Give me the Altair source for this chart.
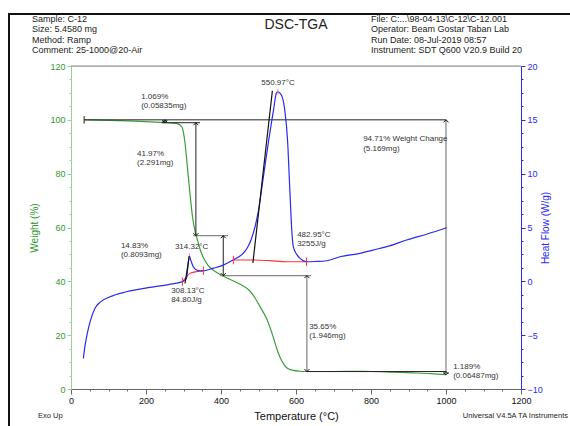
import altair as alt
import pandas as pd

# ---------------- data ----------------
w_temp = [35, 100, 150, 200, 250, 270, 285, 293, 298, 304, 310, 317, 324, 331, 336, 344,
          352, 365, 379, 405, 432, 455, 477, 490, 504, 523, 539, 550, 557, 566, 576, 590,
          610, 629, 700, 779, 850, 912, 960, 1000]
w_val = [100, 99.8, 99.6, 99.3, 98.95, 98.8, 98.5, 97.8, 96.5, 91.4, 83, 72.9, 64, 58.5, 56, 52,
         49.1, 46, 44.2, 42.0, 40.2, 38.6, 36.4, 34.0, 30.6, 25.7, 19.4, 14.5, 11.9, 9.5, 7.8, 7.0,
         6.6, 6.5, 6.5, 6.6, 6.3, 6.0, 5.7, 5.3]

hf_temp = [33, 37, 43.5, 51, 64, 77, 104, 148, 211, 260, 297, 303, 308, 311, 315.5, 320, 326,
           335, 345, 353, 380, 406, 432, 459, 470, 480, 491, 500, 513, 526, 540, 548, 552, 561,
           570, 578, 582, 586, 589, 593, 602, 611, 628, 650, 682, 717, 771, 805, 850, 895, 950, 1002]
hf_val = [-7.15, -6.07, -4.83, -3.75, -2.5, -1.95, -1.43, -0.97, -0.56, -0.3, -0.03, 0.1, 0.28,
          1.1, 2.35, 1.9, 1.36, 1.05, 0.97, 0.98, 1.22, 1.51, 1.98, 2.6, 3.1, 3.84, 5.1, 6.6, 9.7,
          12.8, 15.9, 17.5, 17.6, 17.3, 15.9, 12.8, 9.7, 6.6, 4.6, 3.2, 2.5, 2.13, 1.82, 1.84,
          1.91, 2.28, 2.6, 2.9, 3.3, 3.84, 4.4, 4.98]

red1_temp = [297, 305, 317, 335, 353]
red1_val = [-0.03, 0.3, 0.74, 0.9, 0.98]
red2_temp = [433, 486, 530, 575, 628]
red2_val = [1.98, 1.98, 1.92, 1.82, 1.82]
red_tick_temp = [297, 353, 433, 628]
red_tick_val = [-0.03, 0.98, 1.98, 1.82]
peak_temp = [315.5, 552]
peak_val = [2.35, 17.6]

tan_x1 = [304, 485]
tan_y1 = [-0.2, 1.7]
tan_x2 = [315.5, 537]
tan_y2 = [2.35, 17.7]

# step-analysis segments on the weight scale
dark_x1 = [35, 242, 333, 406, 629, 250, 35]
dark_x2 = [1000, 344, 333, 406, 1000, 250, 35]
dark_y1 = [100, 98.93, 98.93, 56.96, 6.48, 98.93, 98.6]
dark_y2 = [100, 98.93, 56.96, 42.13, 6.48, 100, 101.4]

gray_x1 = [326, 397, 629, 1000]
gray_x2 = [419, 640, 629, 1000]
gray_y1 = [56.96, 42.13, 42.13, 100]
gray_y2 = [56.96, 42.13, 6.48, 5.29]

up_arrow_x = [333, 406, 629, 1000, 250, 1000]
up_arrow_y = [98.93, 56.96, 42.13, 100, 100, 6.48]
down_arrow_x = [333, 406, 629, 1000, 250]
down_arrow_y = [56.96, 42.13, 6.48, 5.29, 98.93]

w_label_text = ["1.069%", "(0.05835mg)", "41.97%", "(2.291mg)", "14.83%", "(0.8093mg)",
                "35.65%", "(1.946mg)", "1.189%", "(0.06487mg)", "94.71% Weight Change", "(5.169mg)"]
w_label_x = [187, 187, 176, 176, 133, 133, 635, 635, 1019, 1019, 779, 779]
w_label_y = [108.6, 105.0, 87.3, 84.0, 53.1, 49.8, 23.0, 19.7, 8.2, 4.8, 92.9, 89.2]

h_label_text = ["314.32°C", "482.95°C", "3255J/g", "308.13°C", "84.80J/g"]
h_label_x = [277, 603, 603, 267, 267]
h_label_y = [3.19, 4.30, 3.46, -0.9, -1.74]
peak_label_text = ["550.97°C"]
peak_label_x = [552]
peak_label_y = [18.4]

x_ticks = list(range(0, 1201, 50))
w_ticks = list(range(0, 121, 5))
h_ticks = [-10 + 1.25 * i for i in range(25)]

header_left = ["Sample: C-12", "Size:  5.4580 mg", "Method: Ramp", "Comment: 25-1000@20-Air"]
header_right = ["File: C:...\\98-04-13\\C-12\\C-12.001", "Operator: Beam Gostar Taban Lab",
                "Run Date: 08-Jul-2019 08:57", "Instrument: SDT Q600 V20.9 Build 20"]

# ---------------- styling ----------------
GREEN = "#2e9a2e"
GREEN_LIGHT = "#9ccf9c"
BLUE = "#2a2af0"
RED = "#ff3030"
FONT = "Liberation Sans"

xscale = alt.Scale(domain=[0, 1200], nice=False, zero=False)
wscale = alt.Scale(domain=[0, 120], nice=False, zero=False)
hscale = alt.Scale(domain=[-10, 20], nice=False, zero=False)

xaxis = alt.Axis(values=x_ticks, title="Temperature (°C)", format="d",
                 labelExpr="datum.value % 200 === 0 ? datum.label : ''",
                 tickSize={"condition": {"test": "datum.value % 200 === 0", "value": 5}, "value": 2},
                 grid=False, domainColor="#666", tickColor="#666", labelColor="#111",
                 labelFontSize=9, titleFontSize=11, titleFontWeight="normal", titleColor="#111",
                 labelOverlap=False, labelFlush=False, titlePadding=5, labelPadding=2)
waxis = alt.Axis(values=w_ticks, orient="left", title="Weight (%)", format="d",
                 labelExpr="datum.value % 20 === 0 ? datum.label : ''",
                 tickSize={"condition": {"test": "datum.value % 20 === 0", "value": 4}, "value": 2},
                 grid=False, domainColor=GREEN_LIGHT, tickColor=GREEN_LIGHT, labelColor=GREEN,
                 labelFontSize=9, titleFontSize=10, titleFontWeight="normal", titleColor=GREEN,
                 labelOverlap=False, labelFlush=False, titlePadding=10, labelPadding=2)
haxis = alt.Axis(values=h_ticks, orient="right", title="Heat Flow (W/g)", titleAngle=270,
                 labelExpr="datum.value % 5 === 0 ? datum.label : ''",
                 tickSize={"condition": {"test": "datum.value % 5 === 0", "value": 4}, "value": 2},
                 grid=False, domainColor=BLUE, tickColor=BLUE, labelColor=BLUE,
                 labelFontSize=9, titleFontSize=10, titleFontWeight="normal", titleColor=BLUE,
                 labelOverlap=False, labelFlush=False, titlePadding=8, labelPadding=2)


def X(field):
    return alt.X(field, type="quantitative", scale=xscale, axis=xaxis)


def YW(field):
    return alt.Y(field, type="quantitative", scale=wscale, axis=waxis)


def YH(field):
    return alt.Y(field, type="quantitative", scale=hscale, axis=haxis)


one = pd.DataFrame({"k": [0]})

# ---------------- weight (left axis) layers ----------------
wdf = pd.DataFrame({"t": w_temp, "w": w_val})
green = alt.Chart(wdf).mark_line(color="#3d9e3d", strokeWidth=1.2, interpolate="monotone").encode(
    x=X("t"), y=YW("w"))

dark_df = pd.DataFrame({"t": dark_x1, "t2": dark_x2, "w": dark_y1, "w2": dark_y2})
dark = alt.Chart(dark_df).mark_rule(color="#222", strokeWidth=1).encode(
    x=X("t"), x2="t2", y=YW("w"), y2="w2")
gray_df = pd.DataFrame({"t": gray_x1, "t2": gray_x2, "w": gray_y1, "w2": gray_y2})
gray = alt.Chart(gray_df).mark_rule(color="#888", strokeWidth=1.3).encode(
    x=X("t"), x2="t2", y=YW("w"), y2="w2")

up_df = pd.DataFrame({"t": up_arrow_x, "w": up_arrow_y})
ups = alt.Chart(up_df).mark_point(shape="M-1,1L0,0L1,1", filled=False, size=25,
                                  color="#111", strokeWidth=1, opacity=1).encode(
    x=X("t"), y=YW("w"))
dn_df = pd.DataFrame({"t": down_arrow_x, "w": down_arrow_y})
downs = alt.Chart(dn_df).mark_point(shape="M-1,-1L0,0L1,-1", filled=False, size=25,
                                    color="#111", strokeWidth=1, opacity=1).encode(
    x=X("t"), y=YW("w"))

wl_df = pd.DataFrame({"txt": w_label_text, "t": w_label_x, "w": w_label_y})
wlabels = alt.Chart(wl_df).mark_text(align="left", baseline="middle", fontSize=8,
                                     color="#333", font=FONT).encode(
    x=X("t"), y=YW("w"), text="txt:N")

# frame and page decorations (pixel offsets relative to the plot area)
top_line = alt.Chart(one).mark_rule(color="#888", strokeWidth=1).encode(
    x=alt.value(0), x2=alt.value(450), y=alt.value(0))
page_left = alt.Chart(one).mark_rule(color="#111", strokeWidth=2).encode(
    x=alt.value(-62), y=alt.value(-52), y2=alt.value(370))
page_top = alt.Chart(one).mark_rule(color="#111", strokeWidth=2).encode(
    x=alt.value(-63), x2=alt.value(510), y=alt.value(-52))

hdr_l = alt.Chart(one).mark_text(text=header_left, align="left", baseline="middle",
                                 fontSize=9, lineHeight=10.3, color="#222", font=FONT).encode(
    x=alt.value(-39), y=alt.value(-47))
hdr_r = alt.Chart(one).mark_text(text=header_right, align="left", baseline="middle",
                                 fontSize=9, lineHeight=10.3, color="#222", font=FONT).encode(
    x=alt.value(300), y=alt.value(-47))
title = alt.Chart(one).mark_text(text="DSC-TGA", align="center", baseline="middle",
                                 fontSize=14, color="#222", font=FONT).encode(
    x=alt.value(225), y=alt.value(-41))
exo = alt.Chart(one).mark_text(text="Exo Up", align="left", baseline="middle",
                               fontSize=7.5, color="#222", font=FONT).encode(
    x=alt.value(-33), y=alt.value(350))
univ = alt.Chart(one).mark_text(text="Universal V4.5A TA Instruments", align="right",
                                baseline="middle", fontSize=7.5, color="#222", font=FONT).encode(
    x=alt.value(497), y=alt.value(350))

left = alt.layer(top_line, green, gray, dark, ups, downs, wlabels,
                 page_left, page_top, hdr_l, hdr_r, title, exo, univ)

# ---------------- heat flow (right axis) layers ----------------
hdf = pd.DataFrame({"t": hf_temp, "h": hf_val})
blue = alt.Chart(hdf).mark_line(color=BLUE, strokeWidth=1.2, interpolate="monotone").encode(
    x=X("t"), y=YH("h"))
r1 = alt.Chart(pd.DataFrame({"t": red1_temp, "h": red1_val})).mark_line(
    color=RED, strokeWidth=1.1, interpolate="monotone").encode(x=X("t"), y=YH("h"))
r2 = alt.Chart(pd.DataFrame({"t": red2_temp, "h": red2_val})).mark_line(
    color=RED, strokeWidth=1.1, interpolate="monotone").encode(x=X("t"), y=YH("h"))
rticks = alt.Chart(pd.DataFrame({"t": red_tick_temp, "h": red_tick_val})).mark_point(
    shape="M0,-1L0,1", size=70, color=RED, strokeWidth=1, filled=False, opacity=1).encode(
    x=X("t"), y=YH("h"))
pticks = alt.Chart(pd.DataFrame({"t": peak_temp, "h": peak_val})).mark_point(
    shape="M0,-1L0,1", size=30, color="#ff8080", strokeWidth=1, filled=False, opacity=1).encode(
    x=X("t"), y=YH("h"))
tangents = alt.Chart(pd.DataFrame({"t": tan_x1, "t2": tan_x2, "h": tan_y1, "h2": tan_y2})).mark_rule(
    color="#111", strokeWidth=1.2).encode(x=X("t"), x2="t2", y=YH("h"), y2="h2")
hl_df = pd.DataFrame({"txt": h_label_text, "t": h_label_x, "h": h_label_y})
hlabels = alt.Chart(hl_df).mark_text(align="left", baseline="middle", fontSize=8,
                                     color="#333", font=FONT).encode(
    x=X("t"), y=YH("h"), text="txt:N")
pl_df = pd.DataFrame({"txt": peak_label_text, "t": peak_label_x, "h": peak_label_y})
plabel = alt.Chart(pl_df).mark_text(align="center", baseline="middle", fontSize=8,
                                    color="#333", font=FONT).encode(
    x=X("t"), y=YH("h"), text="txt:N")

right = alt.layer(r1, r2, blue, rticks, pticks, tangents, hlabels, plabel)

chart = alt.layer(left, right).resolve_scale(y="independent").properties(
    width=450, height=323,
    padding={"left": 71, "top": 66, "right": 49, "bottom": 37},
    autosize=alt.AutoSizeParams(type="none"),
    background="white",
).configure_view(stroke=None).configure(font=FONT)

chart.save("out.html", embed_options={"renderer": "svg", "actions": False})
